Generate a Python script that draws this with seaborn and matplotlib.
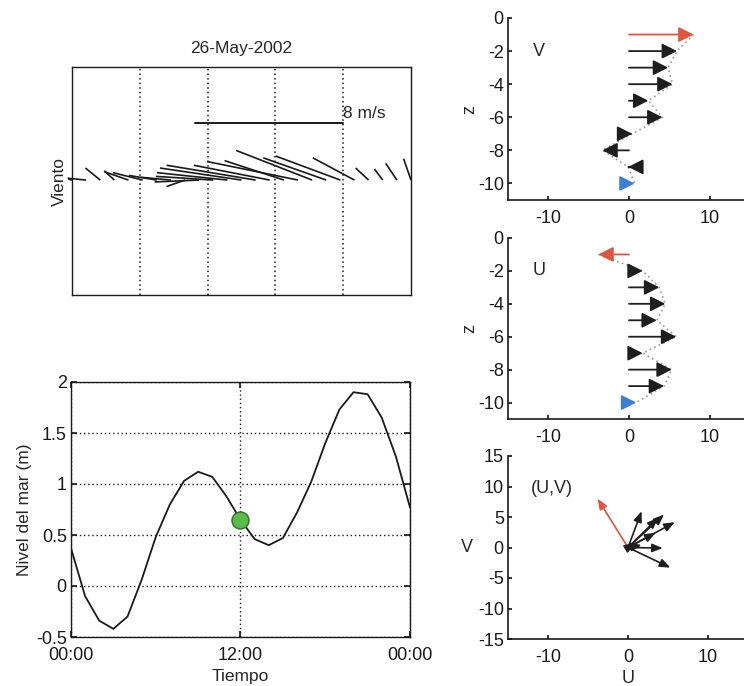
import numpy as np
import pandas as pd
import matplotlib
matplotlib.use("Agg")
import matplotlib.pyplot as plt
import seaborn as sns
from matplotlib.collections import LineCollection

# ---------------- data ----------------
title_text = "26-May-2002"
hours = list(range(25))
wind_u = [-0.2, -1.0, -0.8, -0.55, -1.3, -1.6, -1.5, -1.6, -1.0, -2.4, -3.1, -3.8, -4.4,
          -4.8, -4.1, -3.2, -4.9, -4.1, -3.4, -3.5, -2.25, -0.7, -0.45, -0.6, -0.4]
wind_v = [0.05, 0.1, 0.65, 0.5, 0.45, 0.4, 0.25, 0.15, -0.35, -0.1, 0.2, 0.4, 0.65,
          0.8, 0.8, 1.05, 1.0, 1.6, 1.2, 1.3, 1.2, 0.65, 0.6, 0.9, 1.15]
scale_speed = 8
scale_label = "8 m/s"

tide_level = [0.37, -0.10, -0.34, -0.42, -0.30, 0.06, 0.48, 0.80, 1.03, 1.12, 1.07, 0.88, 0.65,
              0.46, 0.40, 0.47, 0.72, 1.02, 1.40, 1.73, 1.90, 1.88, 1.65, 1.27, 0.77]
marker_hour = 12
marker_level = 0.65
tide_ticks = [0, 12, 24]
tide_tick_labels = ["00:00", "12:00", "00:00"]

depth = [-1, -2, -3, -4, -5, -6, -7, -8, -9, -10]
cur_u = [-3.8, 1.7, 3.75, 4.5, 3.45, 5.85, 1.7, 5.3, 4.35, 0.9]
cur_v = [8.0, 5.95, 4.85, 5.4, 2.4, 4.15, 0.4, -3.3, -0.1, 0.7]

# ---------------- style ----------------
sns.set_theme(style="white")
plt.rcParams['font.family'] = ['Liberation Sans', 'DejaVu Sans']
plt.rcParams['font.size'] = 12
plt.rcParams['axes.unicode_minus'] = False

W, H = 744, 686
fig = plt.figure(figsize=(W / 100, H / 100), dpi=100)
fig.patch.set_facecolor("white")


def px_axes(x0, y0, x1, y1):
    return fig.add_axes([x0 / W, 1 - y1 / H, (x1 - x0) / W, (y1 - y0) / H])


RED = "#e0553f"
BLUE = "#3b7fd6"
DARK = "#1e1e1e"
arrow_colors = [RED] + [DARK] * (len(depth) - 2) + [BLUE]

# ---------------- wind stick panel ----------------
ax1 = px_axes(72, 67, 411, 295)
ymin, ymax = -6.2, 6.1
ax1.set_xlim(0, 24)
ax1.set_ylim(ymin, ymax)
bbox = ax1.get_window_extent()
k = (24 / bbox.width) * (bbox.height / (ymax - ymin))  # hours per m/s (equal pixel scale)
segs = [[(t, 0), (t + k * u, v)] for t, u, v in zip(hours, wind_u, wind_v)]
ax1.add_collection(LineCollection(segs, colors="k", linewidths=1.2, clip_on=False))
bar_end, bar_y = 19.2, 3.1
ax1.plot([bar_end - k * scale_speed, bar_end], [bar_y, bar_y], color="k", lw=1.4)
ax1.text(bar_end, bar_y + 0.1, scale_label, ha="left", va="bottom", fontsize=12.5)
ax1.set_xticks([4.8, 9.6, 14.4, 19.2])
ax1.set_xticklabels([])
ax1.set_yticks([])
ax1.tick_params(length=0)
ax1.grid(axis="x", color="k", ls=(0, (1, 2)), lw=1.1)
ax1.set_title(title_text, fontsize=12.5, pad=10)
ax1.set_ylabel("Viento", fontsize=12.5, labelpad=4)
for s in ax1.spines.values():
    s.set_color("k")
    s.set_linewidth(1.0)

# ---------------- tide panel ----------------
ax2 = px_axes(71, 382, 410, 637)
tide_df = pd.DataFrame({"hora": hours, "nivel": tide_level})
sns.lineplot(data=tide_df, x="hora", y="nivel", ax=ax2, color="k", lw=1.3)
sns.scatterplot(x=[marker_hour], y=[marker_level], ax=ax2, s=150, color="#58bb4a",
                edgecolor="#2f6e2a", linewidth=1.0, zorder=5)
ax2.set_xlim(0, 24)
ax2.set_ylim(-0.5, 2)
ax2.set_xticks(tide_ticks)
ax2.set_xticklabels(tide_tick_labels)
ax2.set_yticks([-0.5, 0, 0.5, 1, 1.5, 2])
ax2.set_yticklabels(["-0.5", "0", "0.5", "1", "1.5", "2"])
ax2.grid(True, color="k", ls=(0, (1, 2)), lw=1.0)
ax2.tick_params(direction="in", length=4, bottom=True, left=True, top=True, right=True,
                labelsize=13, colors="k")
ax2.tick_params(axis="x", pad=7)
ax2.tick_params(axis="y", pad=3)
ax2.set_xlabel("Tiempo", fontsize=12.5, labelpad=4)
ax2.set_ylabel("Nivel del mar (m)", fontsize=12.5, labelpad=3)
for s in ax2.spines.values():
    s.set_color("k")
    s.set_linewidth(1.0)


# ---------------- profile panels ----------------
def profile_axes(ax, ylim, yticks):
    ax.set_xlim(-15, 15)
    ax.set_ylim(*ylim)
    ax.set_xticks([-10, 0, 10])
    ax.set_yticks(yticks)
    ax.spines["top"].set_visible(False)
    ax.spines["right"].set_visible(False)
    for s in ("left", "bottom"):
        ax.spines[s].set_color("k")
        ax.spines[s].set_linewidth(1.2)
    ax.tick_params(direction="in", length=3, bottom=True, left=True, labelsize=13,
                   colors="k")
    ax.tick_params(axis="x", pad=7)
    ax.tick_params(axis="y", pad=3)
    ax.patch.set_alpha(0)


def profile(ax, values, label, txt_y):
    ax.plot(values, depth, ls=(0, (1, 2)), color="#9a9a9a", lw=1.2, zorder=1)
    for val, z, c in zip(values, depth, arrow_colors):
        ax.annotate("", xy=(val, z), xytext=(0, z),
                    arrowprops=dict(arrowstyle="-|>,head_length=0.75,head_width=0.38",
                                    mutation_scale=12, color=c, lw=1.3,
                                    shrinkA=0, shrinkB=0), zorder=3)
    ax.text(-11.2, txt_y, label, fontsize=13, ha="center", va="center")
    profile_axes(ax, (-11, 0), list(range(0, -11, -2)))
    ax.set_ylabel("z", fontsize=13, labelpad=0)


ax3 = px_axes(508, 18, 750, 200)
profile(ax3, cur_v, "V", -2)
ax4 = px_axes(508, 238, 750, 419)
profile(ax4, cur_u, "U", -2)

# ---------------- (U,V) panel ----------------
ax5 = px_axes(508, 456, 748, 639)
uv_colors = [RED] + [DARK] * (len(depth) - 1)
for u, v, c in zip(cur_u, cur_v, uv_colors):
    ax5.annotate("", xy=(u, v), xytext=(0, 0),
                 arrowprops=dict(arrowstyle="-|>,head_length=0.7,head_width=0.28",
                                 mutation_scale=9, color=c, lw=1.2,
                                 shrinkA=0, shrinkB=0))
ax5.text(-9.5, 9.6, "(U,V)", fontsize=13, ha="center", va="center")
profile_axes(ax5, (-15, 15), [-15, -10, -5, 0, 5, 10, 15])
ax5.set_xlabel("U", fontsize=13, labelpad=3)
ax5.set_ylabel("V", fontsize=13, rotation=0, labelpad=8, va="center")

fig.savefig("out.png", dpi=100)
